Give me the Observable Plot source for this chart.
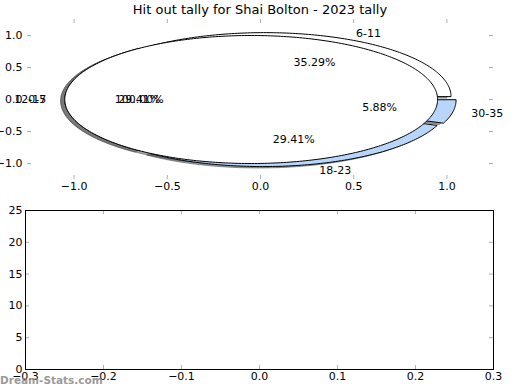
<!DOCTYPE html>
<html><head><meta charset="utf-8">
<script src="https://cdn.jsdelivr.net/npm/d3@7"></script>
<script src="https://cdn.jsdelivr.net/npm/@observablehq/plot@0.6"></script>
<style>
body{margin:0;background:#fff;font-family:"DejaVu Sans",sans-serif}
#wrap{position:relative;width:520px;height:390px;overflow:hidden;background:#fff}
#title{position:absolute;left:0;top:2px;width:520px;text-align:center;font-size:13px;line-height:16px;color:#000}
#pie{position:absolute;left:0;top:0}
#bars{position:absolute;left:0;top:200px}
#wm{position:absolute;left:0;top:373px;font-size:10.5px;font-weight:bold;line-height:14px;color:rgba(140,140,140,0.9);white-space:nowrap}
</style></head><body>
<div id="wrap"><div id="pie"></div><div id="bars"></div><div id="title"></div><div id="wm"></div></div>
<script>
// ---- data ----
const title = "Hit out tally for Shai Bolton - 2023 tally";
const categories = ["6-11", "12-17", "18-23", "30-35"];
const values = [6, 5, 5, 1];
const colors = ["#ffffff", "#ffffff", "#b8d5fb", "#b8d5fb"];
const overlayCategories = ["0-5"];
const overlayValues = [1];
const overlayColors = ["#ffffff"];
const pieTicks = [-1, -0.5, 0, 0.5, 1];
const barXTicks = [-0.3, -0.2, -0.1, 0, 0.1, 0.2, 0.3];
const barYTicks = [0, 5, 10, 15, 20, 25];
const watermark = "Dream-Stats.com";

// ---- pie geometry (matplotlib-like) ----
const EXPLODE = 0.05, LABEL_DIST = 1.1, PCT_DIST = 0.6, SHADOW = -0.022;
function wedges(vals, cats, cols) {
  const total = d3.sum(vals);
  let acc = 0;
  return vals.map((v, i) => {
    const t1 = acc / total * 360; acc += v; const t2 = acc / total * 360;
    const mid = (t1 + t2) / 2 * Math.PI / 180;
    const cx = EXPLODE * Math.cos(mid), cy = EXPLODE * Math.sin(mid);
    const full = Math.abs(t2 - t1 - 360) < 1e-9;
    const pts = [];
    if (!full) pts.push({x: cx, y: cy});
    const n = Math.max(2, Math.ceil(t2 - t1));
    for (let k = 0; k <= n; k++) {
      const a = (t1 + (t2 - t1) * k / n) * Math.PI / 180;
      pts.push({x: cx + Math.cos(a), y: cy + Math.sin(a)});
    }
    return {
      cat: cats[i], color: cols[i], pts,
      lx: cx + LABEL_DIST * Math.cos(mid), ly: cy + LABEL_DIST * Math.sin(mid),
      px: cx + PCT_DIST * Math.cos(mid), py: cy + PCT_DIST * Math.sin(mid),
      pct: (v / total * 100).toFixed(2) + "%"
    };
  });
}
const w1 = wedges(values, categories, colors);
const w2 = wedges(overlayValues, overlayCategories, overlayColors);
const all = [...w1, ...w2];
function shade(c) { const r = d3.rgb(c); return d3.rgb(r.r * 0.3, r.g * 0.3, r.b * 0.3).formatHex(); }
const fmt = d => (d < 0 ? "\u2212" : "") + Math.abs(d).toFixed(1);

const pieW = 520, pieH = 200, pm = {top: 19, right: 27, bottom: 21, left: 27};
const pInnerH = pieH - pm.top - pm.bottom, pInnerW = pieW - pm.left - pm.right;
const tickCol = "#b0b0b0";

const pieMarks = [];
for (const w of all) pieMarks.push(Plot.line(w.pts, {x: d => d.x + SHADOW, y: d => d.y + SHADOW, curve: "linear-closed", fill: shade(w.color), fillOpacity: 0.5, stroke: shade(w.color), strokeOpacity: 0.5, strokeWidth: 1}));
for (const w of all) pieMarks.push(Plot.line(w.pts, {x: "x", y: "y", curve: "linear-closed", fill: w.color, stroke: "black", strokeWidth: 1}));
pieMarks.push(
  Plot.ruleX(pieTicks, {x: d => d, stroke: tickCol, insetBottom: pInnerH - 4}),
  Plot.ruleX(pieTicks, {x: d => d, stroke: tickCol, insetTop: pInnerH - 4}),
  Plot.ruleY(pieTicks, {y: d => d, stroke: tickCol, insetRight: pInnerW - 4}),
  Plot.ruleY(pieTicks, {y: d => d, stroke: tickCol, insetLeft: pInnerW - 4}),
  Plot.axisX(pieTicks, {anchor: "bottom", tickSize: 0, tickPadding: 3, tickFormat: fmt, fontSize: 11}),
  Plot.axisY(pieTicks, {anchor: "left", tickSize: 0, tickPadding: 5, tickFormat: fmt, fontSize: 11}),
  Plot.text(all.filter(d => d.lx > 0), {x: "lx", y: "ly", text: "cat", textAnchor: "start", fontSize: 11, fill: "black"}),
  Plot.text(all.filter(d => d.lx <= 0), {x: "lx", y: "ly", text: "cat", textAnchor: "end", fontSize: 11, fill: "black"}),
  Plot.text(all, {x: "px", y: "py", text: "pct", fontSize: 11, fill: "black"})
);
const pie = Plot.plot({
  width: pieW, height: pieH,
  marginTop: pm.top, marginRight: pm.right, marginBottom: pm.bottom, marginLeft: pm.left,
  x: {domain: [-1.25, 1.25], axis: null},
  y: {domain: [-1.25, 1.25], axis: null},
  style: {fontFamily: "DejaVu Sans", fontSize: "11px", background: "transparent", color: "black"},
  marks: pieMarks
});
document.getElementById("pie").appendChild(pie);

const bW = 520, bH = 190, bm = {top: 10, right: 27, bottom: 21, left: 25};
const bInnerH = bH - bm.top - bm.bottom, bInnerW = bW - bm.left - bm.right;
const bars = Plot.plot({
  width: bW, height: bH,
  marginTop: bm.top, marginRight: bm.right, marginBottom: bm.bottom, marginLeft: bm.left,
  x: {domain: [-0.3, 0.3], axis: null},
  y: {domain: [0, 25], axis: null},
  style: {fontFamily: "DejaVu Sans", fontSize: "11px", background: "transparent", color: "black"},
  marks: [
    Plot.ruleX(barXTicks, {x: d => d, stroke: tickCol, insetBottom: bInnerH - 4}),
    Plot.ruleX(barXTicks, {x: d => d, stroke: tickCol, insetTop: bInnerH - 4}),
    Plot.ruleY(barYTicks, {y: d => d, stroke: tickCol, insetRight: bInnerW - 4}),
    Plot.ruleY(barYTicks, {y: d => d, stroke: tickCol, insetLeft: bInnerW - 4}),
    Plot.frame({stroke: "black", strokeWidth: 1}),
    Plot.axisX(barXTicks, {anchor: "bottom", tickSize: 0, tickPadding: 3, tickFormat: fmt, fontSize: 11}),
    Plot.axisY(barYTicks, {anchor: "left", tickSize: 0, tickPadding: 3, tickFormat: d => String(d), fontSize: 11})
  ]
});
document.getElementById("bars").appendChild(bars);
document.getElementById("title").textContent = title;
document.getElementById("wm").textContent = watermark;
</script>
</body></html>
